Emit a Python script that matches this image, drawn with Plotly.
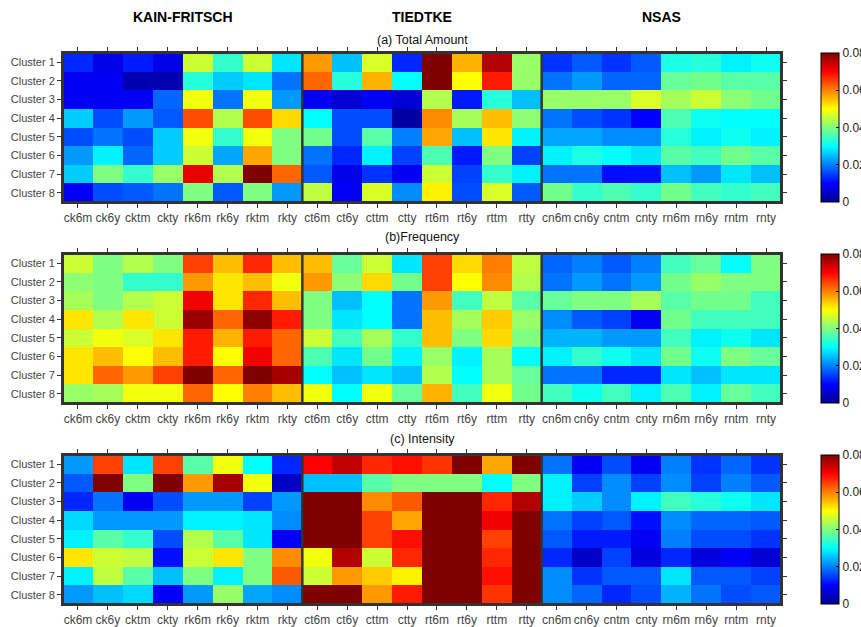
import numpy as np
import plotly.graph_objects as go
from plotly.subplots import make_subplots

clusters = ["Cluster 1", "Cluster 2", "Cluster 3", "Cluster 4",
            "Cluster 5", "Cluster 6", "Cluster 7", "Cluster 8"]
kf_cols = ["ck6m", "ck6y", "cktm", "ckty", "rk6m", "rk6y", "rktm", "rkty"]
td_cols = ["ct6m", "ct6y", "cttm", "ctty", "rt6m", "rt6y", "rttm", "rtty"]
ns_cols = ["cn6m", "cn6y", "cntm", "cnty", "rn6m", "rn6y", "rntm", "rnty"]
schemes = ["KAIN-FRITSCH", "TIEDTKE", "NSAS"]
panel_titles = ["(a) Total Amount", "(b)Frequency", "(c) Intensity"]
cbar_ticks = [0, 0.02, 0.04, 0.06, 0.08]
cbar_labels = ["0", "0.02", "0.04", "0.06", "0.08"]

# (a) Total Amount
total_kf = [
    [0.013, 0.008, 0.012, 0.008, 0.046, 0.034, 0.046, 0.028],
    [0.009, 0.009, 0.003, 0.003, 0.033, 0.026, 0.028, 0.019],
    [0.009, 0.009, 0.009, 0.018, 0.049, 0.019, 0.049, 0.022],
    [0.026, 0.016, 0.022, 0.017, 0.064, 0.044, 0.064, 0.053],
    [0.016, 0.019, 0.016, 0.026, 0.049, 0.034, 0.049, 0.040],
    [0.022, 0.029, 0.018, 0.026, 0.046, 0.023, 0.057, 0.040],
    [0.026, 0.040, 0.034, 0.042, 0.072, 0.044, 0.080, 0.062],
    [0.009, 0.016, 0.017, 0.019, 0.040, 0.017, 0.040, 0.022],
]
total_td = [
    [0.058, 0.025, 0.047, 0.013, 0.080, 0.056, 0.076, 0.042],
    [0.062, 0.033, 0.056, 0.030, 0.080, 0.050, 0.068, 0.042],
    [0.009, 0.006, 0.009, 0.006, 0.044, 0.012, 0.033, 0.025],
    [0.030, 0.016, 0.016, 0.002, 0.059, 0.043, 0.055, 0.041],
    [0.039, 0.016, 0.037, 0.020, 0.057, 0.025, 0.052, 0.029],
    [0.019, 0.013, 0.029, 0.015, 0.036, 0.012, 0.040, 0.015],
    [0.017, 0.008, 0.014, 0.009, 0.046, 0.015, 0.034, 0.029],
    [0.045, 0.009, 0.047, 0.021, 0.051, 0.016, 0.047, 0.017],
]
total_ns = [
    [0.014, 0.017, 0.014, 0.017, 0.032, 0.033, 0.029, 0.031],
    [0.019, 0.022, 0.018, 0.018, 0.038, 0.039, 0.037, 0.037],
    [0.042, 0.042, 0.042, 0.047, 0.043, 0.046, 0.041, 0.039],
    [0.019, 0.016, 0.014, 0.010, 0.036, 0.031, 0.030, 0.030],
    [0.023, 0.023, 0.021, 0.021, 0.033, 0.029, 0.031, 0.029],
    [0.029, 0.032, 0.030, 0.028, 0.037, 0.035, 0.039, 0.037],
    [0.019, 0.019, 0.011, 0.011, 0.025, 0.022, 0.028, 0.025],
    [0.039, 0.034, 0.036, 0.034, 0.039, 0.035, 0.034, 0.035],
]

# (b) Frequency
freq_kf = [
    [0.046, 0.040, 0.044, 0.040, 0.065, 0.055, 0.067, 0.055],
    [0.041, 0.040, 0.034, 0.034, 0.058, 0.052, 0.055, 0.049],
    [0.043, 0.040, 0.044, 0.046, 0.071, 0.052, 0.067, 0.055],
    [0.052, 0.044, 0.052, 0.046, 0.078, 0.062, 0.079, 0.068],
    [0.046, 0.049, 0.047, 0.052, 0.068, 0.056, 0.068, 0.062],
    [0.052, 0.055, 0.050, 0.055, 0.068, 0.050, 0.071, 0.062],
    [0.052, 0.062, 0.058, 0.065, 0.080, 0.062, 0.080, 0.077],
    [0.042, 0.043, 0.049, 0.049, 0.062, 0.050, 0.060, 0.055],
]
freq_td = [
    [0.055, 0.038, 0.046, 0.028, 0.065, 0.053, 0.060, 0.045],
    [0.058, 0.041, 0.053, 0.039, 0.065, 0.050, 0.059, 0.044],
    [0.040, 0.025, 0.030, 0.019, 0.058, 0.035, 0.045, 0.037],
    [0.040, 0.028, 0.030, 0.019, 0.055, 0.043, 0.054, 0.042],
    [0.046, 0.035, 0.043, 0.034, 0.055, 0.040, 0.053, 0.040],
    [0.036, 0.028, 0.039, 0.029, 0.042, 0.029, 0.043, 0.030],
    [0.030, 0.025, 0.028, 0.025, 0.044, 0.030, 0.043, 0.038],
    [0.049, 0.030, 0.049, 0.038, 0.056, 0.035, 0.049, 0.039],
]
freq_ns = [
    [0.018, 0.020, 0.017, 0.020, 0.035, 0.038, 0.030, 0.040],
    [0.019, 0.022, 0.019, 0.022, 0.039, 0.042, 0.040, 0.040],
    [0.038, 0.040, 0.040, 0.043, 0.037, 0.039, 0.039, 0.035],
    [0.021, 0.017, 0.015, 0.009, 0.039, 0.035, 0.035, 0.035],
    [0.024, 0.024, 0.022, 0.022, 0.035, 0.029, 0.031, 0.028],
    [0.029, 0.034, 0.031, 0.028, 0.039, 0.031, 0.040, 0.038],
    [0.019, 0.019, 0.013, 0.013, 0.028, 0.025, 0.028, 0.028],
    [0.035, 0.031, 0.035, 0.029, 0.036, 0.029, 0.038, 0.035],
]

# (c) Intensity
inten_kf = [
    [0.022, 0.065, 0.028, 0.065, 0.037, 0.049, 0.030, 0.013],
    [0.017, 0.080, 0.040, 0.080, 0.058, 0.077, 0.049, 0.005],
    [0.013, 0.019, 0.009, 0.016, 0.022, 0.022, 0.015, 0.022],
    [0.027, 0.022, 0.022, 0.022, 0.029, 0.029, 0.028, 0.021],
    [0.029, 0.037, 0.034, 0.016, 0.044, 0.037, 0.028, 0.009],
    [0.052, 0.046, 0.045, 0.011, 0.046, 0.052, 0.040, 0.059],
    [0.029, 0.045, 0.037, 0.025, 0.040, 0.029, 0.040, 0.063],
    [0.022, 0.025, 0.027, 0.009, 0.022, 0.042, 0.023, 0.021],
]
inten_td = [
    [0.070, 0.075, 0.067, 0.069, 0.066, 0.080, 0.057, 0.080],
    [0.025, 0.025, 0.037, 0.040, 0.040, 0.040, 0.030, 0.040],
    [0.080, 0.080, 0.059, 0.063, 0.080, 0.080, 0.067, 0.076],
    [0.080, 0.080, 0.065, 0.057, 0.080, 0.080, 0.071, 0.080],
    [0.080, 0.080, 0.065, 0.069, 0.080, 0.080, 0.065, 0.080],
    [0.049, 0.076, 0.046, 0.067, 0.080, 0.080, 0.067, 0.080],
    [0.046, 0.058, 0.054, 0.051, 0.080, 0.080, 0.069, 0.080],
    [0.080, 0.080, 0.058, 0.068, 0.080, 0.080, 0.066, 0.080],
]
inten_ns = [
    [0.019, 0.009, 0.016, 0.009, 0.020, 0.014, 0.018, 0.014],
    [0.029, 0.015, 0.021, 0.015, 0.021, 0.015, 0.020, 0.017],
    [0.029, 0.026, 0.021, 0.029, 0.035, 0.033, 0.031, 0.028],
    [0.019, 0.015, 0.017, 0.011, 0.021, 0.018, 0.018, 0.017],
    [0.017, 0.012, 0.012, 0.009, 0.020, 0.016, 0.016, 0.014],
    [0.013, 0.005, 0.015, 0.007, 0.013, 0.007, 0.009, 0.006],
    [0.021, 0.014, 0.017, 0.017, 0.028, 0.017, 0.017, 0.015],
    [0.021, 0.018, 0.013, 0.016, 0.024, 0.019, 0.016, 0.017],
]

panels = [
    [total_kf, total_td, total_ns],
    [freq_kf, freq_td, freq_ns],
    [inten_kf, inten_td, inten_ns],
]
col_labels = kf_cols + td_cols + ns_cols
ncol_block = len(kf_cols)

jet = [
    [0.0, "rgb(0,0,143)"],
    [0.125, "rgb(0,0,255)"],
    [0.375, "rgb(0,255,255)"],
    [0.625, "rgb(255,255,0)"],
    [0.875, "rgb(255,0,0)"],
    [1.0, "rgb(128,0,0)"],
]

W, H = 861, 627
ml, mr, mt, mb = 63, 80, 53, 23
gap_px = 52
plot_w = W - ml - mr
plot_h = H - mt - mb
fig = make_subplots(rows=3, cols=1, vertical_spacing=gap_px / plot_h)

FONT = "Liberation Sans, Arial, Helvetica, sans-serif"
tick_col = "#444444"
frame_col = "#333333"

for i, blocks in enumerate(panels):
    z = np.hstack([np.array(b) for b in blocks])
    r = i + 1
    ax = "" if r == 1 else str(r)
    dom = fig.layout["yaxis" + ax].domain
    fig.add_trace(
        go.Heatmap(
            z=z,
            x=list(range(len(col_labels))),
            y=list(range(len(clusters))),
            colorscale=jet,
            zmin=cbar_ticks[0],
            zmax=cbar_ticks[-1],
            colorbar=dict(
                x=1 + 40 / plot_w,
                xanchor="left",
                xpad=0,
                ypad=0,
                y=(dom[0] + dom[1]) / 2,
                yanchor="middle",
                len=dom[1] - dom[0],
                lenmode="fraction",
                thickness=18,
                outlinewidth=1,
                outlinecolor="black",
                tickvals=cbar_ticks,
                ticktext=cbar_labels,
                ticks="inside",
                ticklen=3,
                tickcolor="black",
                tickfont=dict(family=FONT, size=12, color="#222222"),
            ),
            hoverinfo="skip",
        ),
        row=r, col=1,
    )
    fig.update_xaxes(
        tickvals=list(range(len(col_labels))), ticktext=col_labels,
        tickangle=0,
        ticks="outside", ticklen=4, tickcolor=frame_col,
        showline=True, linecolor=frame_col, linewidth=2, mirror="allticks",
        showgrid=False, zeroline=False,
        tickfont=dict(family=FONT, size=12, color=tick_col),
        range=[-0.5, len(col_labels) - 0.5],
        automargin=False,
        row=r, col=1,
    )
    fig.update_yaxes(
        tickvals=list(range(len(clusters))), ticktext=clusters,
        ticks="outside", ticklen=4, tickcolor=frame_col,
        showline=True, linecolor=frame_col, linewidth=2, mirror="allticks",
        showgrid=False, zeroline=False,
        tickfont=dict(family=FONT, size=11, color=tick_col),
        range=[len(clusters) - 0.5, -0.5],
        automargin=False,
        row=r, col=1,
    )
    # block frames
    for b in range(len(blocks)):
        fig.add_shape(
            type="rect",
            xref="x" + ax, yref="y" + ax,
            x0=b * ncol_block - 0.5, x1=(b + 1) * ncol_block - 0.5,
            y0=-0.5, y1=len(clusters) - 0.5,
            line=dict(color=frame_col, width=2),
        )
    # panel subtitle
    yshift = [13, 17, 16][i]
    fig.add_annotation(
        text=panel_titles[i], xref="x" + ax + " domain", yref="y" + ax + " domain",
        x=0.5, y=1, yanchor="middle", yshift=yshift, showarrow=False,
        font=dict(family=FONT, size=12.5, color="#111111"),
    )

# scheme headers
for b, name in enumerate(schemes):
    fig.add_annotation(
        text="<b>" + name + "</b>", xref="x", yref="y domain",
        x=(b + 0.5) * ncol_block - 0.5, y=1, yanchor="middle", yshift=36,
        showarrow=False, font=dict(family=FONT, size=14, color="black"),
    )

fig.update_layout(
    width=W, height=H,
    margin=dict(l=ml, r=mr, t=mt, b=mb, autoexpand=False),
    paper_bgcolor="white", plot_bgcolor="white",
    showlegend=False,
)

fig.write_html(
    "out.html",
    config={"displayModeBar": False},
    post_script="document.body.style.margin='0';document.body.style.overflow='hidden';",
)
